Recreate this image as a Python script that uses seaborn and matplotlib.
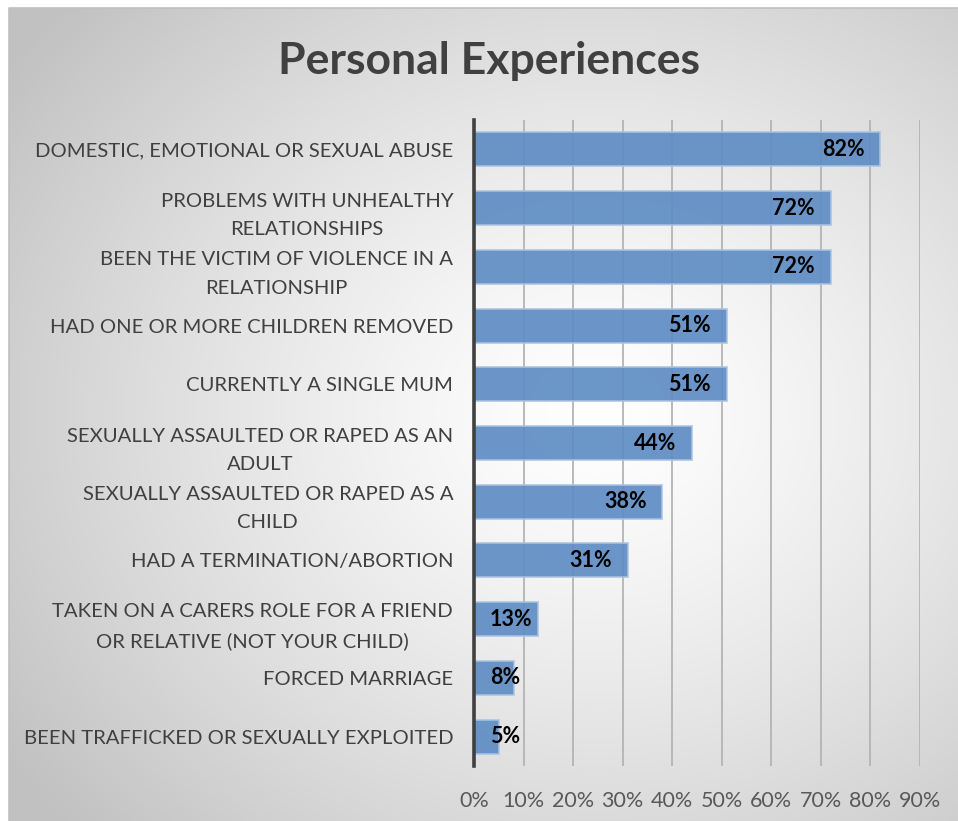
import numpy as np
import pandas as pd
import matplotlib
matplotlib.use("Agg")
import matplotlib.pyplot as plt
import seaborn as sns

sns.set_theme(style="white")
plt.rcParams['font.family'] = ['Lato', 'DejaVu Sans']

# data
categories = [
    "DOMESTIC, EMOTIONAL OR SEXUAL ABUSE",
    "PROBLEMS WITH UNHEALTHY\nRELATIONSHIPS",
    "BEEN THE VICTIM OF VIOLENCE IN A\nRELATIONSHIP",
    "HAD ONE OR MORE CHILDREN REMOVED",
    "CURRENTLY A SINGLE MUM",
    "SEXUALLY ASSAULTED OR RAPED AS AN\nADULT",
    "SEXUALLY ASSAULTED OR RAPED AS A\nCHILD",
    "HAD A TERMINATION/ABORTION",
    "TAKEN ON A CARERS ROLE FOR A FRIEND\nOR RELATIVE (NOT YOUR CHILD)",
    "FORCED MARRIAGE",
    "BEEN TRAFFICKED OR SEXUALLY EXPLOITED",
]
values = [0.82, 0.72, 0.72, 0.51, 0.51, 0.44, 0.38, 0.31, 0.13, 0.08, 0.05]
x_ticks = [0.0, 0.1, 0.2, 0.3, 0.4, 0.5, 0.6, 0.7, 0.8, 0.9]
x_ticklabels = ["0%", "10%", "20%", "30%", "40%", "50%", "60%", "70%", "80%", "90%"]

df = pd.DataFrame({"category": categories, "value": values})

W, H = 958, 821
fig = plt.figure(figsize=(W / 100, H / 100), dpi=100)
fig.patch.set_facecolor("white")

# radial gradient background of the chart area
bg = fig.add_axes([9 / W, 0, 1 - 9 / W, 1 - 8 / H], zorder=0)
yy, xx = np.mgrid[0:1:400j, 0:1:400j]
r = np.sqrt(((xx - 0.62) / 0.75) ** 2 + ((yy - 0.5) / 0.75) ** 2)
r = np.clip(r, 0, 1)
shade = 1.0 - 0.24 * r ** 1.3
bg.imshow(np.dstack([shade] * 3), extent=[0, 1, 0, 1], aspect="auto", origin="upper")
bg.set_axis_off()
fig.add_artist(plt.Line2D([9 / W, 9 / W, 1], [0, 1 - 8 / H, 1 - 8 / H],
                          transform=fig.transFigure, color="#c0c0c0", lw=1.2))

ax = fig.add_axes([474 / W, 1 - 766 / H, (920 - 474) / W, (766 - 120) / H], zorder=1)
ax.patch.set_alpha(0)

sns.barplot(data=df, x="value", y="category", orient="h", ax=ax,
            color="#5f8dc4", width=0.58, saturation=1, alpha=0.92,
            edgecolor="#a9c3e3", linewidth=1.2, zorder=3)

ax.set_xlim(0, 0.9)
ax.set_xticks(x_ticks)
ax.set_xticklabels(x_ticklabels, fontsize=15.5, color="#595959")
ax.tick_params(axis="x", length=0, pad=18)
ax.tick_params(axis="y", length=0, pad=15)
for lbl in ax.get_yticklabels():
    lbl.set_fontsize(14.6)
    lbl.set_color("#404040")
    lbl.set_multialignment("center")
    lbl.set_linespacing(1.8)
ax.set_xlabel("")
ax.set_ylabel("")

for x in x_ticks[1:]:
    ax.axvline(x, color="#b4b4b4", lw=1.3, zorder=1)

for s in ["top", "right", "bottom"]:
    ax.spines[s].set_visible(False)
ax.spines["left"].set_color("#404040")
ax.spines["left"].set_linewidth(2.6)
ax.spines["left"].set_zorder(5)

for i, v in enumerate(values):
    label = f"{int(round(v * 100))}%"
    if v >= 0.2:
        ax.text(v - 0.032, i, label, ha="right", va="center", fontsize=15.5,
                fontweight="bold", color="black", zorder=6)
    else:
        ax.text(0.032, i, label, ha="left", va="center", fontsize=15.5,
                fontweight="bold", color="black", zorder=6)

fig.text(489 / W, 1 - 61 / H, "Personal Experiences", ha="center", va="center",
         fontsize=32, fontweight="bold", color="#404040")

fig.savefig("out.png", dpi=100)
